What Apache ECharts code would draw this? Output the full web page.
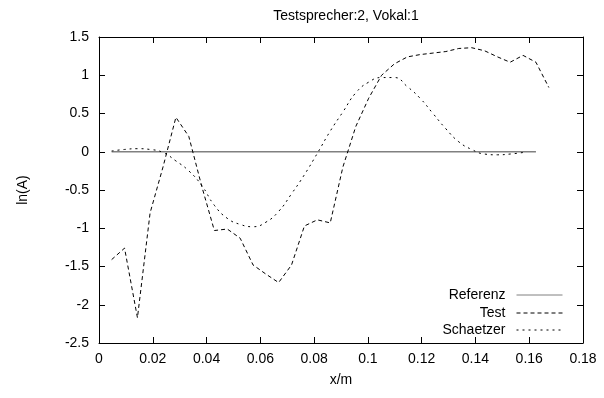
<!DOCTYPE html>
<html>
<head>
<meta charset="utf-8">
<script src="https://cdn.jsdelivr.net/npm/echarts@6/dist/echarts.min.js"></script>
<style>
  html, body { margin: 0; padding: 0; background: #fff; }
  #chart { width: 604px; height: 398px; }
</style>
</head>
<body>
<div id="chart"></div>
<script>
// x-Werte (m)
var xs = [0.0047, 0.0095, 0.0143, 0.0190, 0.0238, 0.0286, 0.0334, 0.0382, 0.0429, 0.0477,
          0.0525, 0.0573, 0.0621, 0.0668, 0.0716, 0.0764, 0.0812, 0.0860, 0.0907, 0.0955,
          0.1003, 0.1051, 0.1099, 0.1147, 0.1194, 0.1242, 0.1290, 0.1338, 0.1386, 0.1434,
          0.1482, 0.1529, 0.1577, 0.1625, 0.1673];

var referenz = [0, 0, 0, 0, 0, 0, 0, 0, 0, 0, 0, 0, 0, 0, 0, 0, 0, 0, 0, 0,
                0, 0, 0, 0, 0, 0, 0, 0, 0, 0, 0, 0, 0, 0];

var test = [-1.41, -1.26, -2.17, -0.80, -0.20, 0.45, 0.20, -0.45, -1.03, -1.01,
            -1.13, -1.48, -1.60, -1.71, -1.48, -0.97, -0.89, -0.93, -0.20, 0.33,
            0.70, 1.00, 1.15, 1.24, 1.27, 1.29, 1.31, 1.35, 1.36, 1.32,
            1.24, 1.17, 1.26, 1.17, 0.84];

var schaetzer = [0.01, 0.03, 0.04, 0.03, -0.01, -0.12, -0.25, -0.44, -0.70, -0.87,
                 -0.95, -0.98, -0.92, -0.78, -0.55, -0.30, -0.02, 0.27, 0.52, 0.77,
                 0.91, 0.97, 0.97, 0.85, 0.70, 0.50, 0.30, 0.13, 0.03, -0.03,
                 -0.04, -0.03, -0.01];

function pairs(ys){
  var out = [];
  for (var i = 0; i < ys.length; i++) out.push([xs[i], ys[i]]);
  return out;
}

var font = 'Liberation Sans, Arial, sans-serif';

// je Eintrag eine eigene Legende, damit die Linienmuster rechtsbuendig stehen
function legendItem(name, top){
  return {
    data: [name],
    orient: 'vertical',
    right: 41,
    top: top,
    align: 'right',
    itemWidth: 46,
    itemHeight: 10,
    itemGap: 0,
    padding: 0,
    itemStyle: { opacity: 0 },
    lineStyle: { width: 1 },
    textStyle: { fontFamily: font, fontSize: 14, color: '#000', padding: [0, 6, 0, 0] }
  };
}

function Chart_1(){
  var myChart = echarts.init(document.getElementById('chart'));
  var axisLine = { onZero: false, show: true, lineStyle: { color: '#000', width: 1 } };
  var axisTick = { show: true, inside: true, length: 6, lineStyle: { color: '#000' } };
  var option = {
    animation: false,
    backgroundColor: '#fff',
    title: {
      text: 'Testsprecher:2, Vokal:1',
      left: 341,
      textAlign: 'center',
      top: 4,
      textStyle: { fontFamily: font, fontSize: 14, fontWeight: 'normal', color: '#000' }
    },
    legend: [
      legendItem('Referenz', 288),
      legendItem('Test', 306),
      legendItem('Schaetzer', 323)
    ],
    grid: { left: 99, right: 21, top: 37, bottom: 55 },
    xAxis: [
      {
        type: 'value', min: 0, max: 0.18, interval: 0.02,
        name: 'x/m', nameLocation: 'middle', nameGap: 30,
        nameTextStyle: { fontFamily: font, fontSize: 14, color: '#000' },
        axisLine: axisLine, axisTick: axisTick,
        axisLabel: { fontFamily: font, fontSize: 14, color: '#000', margin: 9,
          formatter: function(v){ return String(+v.toFixed(2)); } },
        splitLine: { show: false }
      },
      {
        type: 'value', position: 'top', min: 0, max: 0.18, interval: 0.02,
        axisLine: axisLine, axisTick: axisTick,
        axisLabel: { show: false },
        splitLine: { show: false }
      }
    ],
    yAxis: [
      {
        type: 'value', min: -2.5, max: 1.5, interval: 0.5,
        name: 'ln(A)', nameLocation: 'middle', nameGap: 69, nameRotate: 90,
        nameTextStyle: { fontFamily: font, fontSize: 14, color: '#000' },
        axisLine: axisLine, axisTick: axisTick,
        axisLabel: { fontFamily: font, fontSize: 14, color: '#000', margin: 10 },
        splitLine: { show: false }
      },
      {
        type: 'value', position: 'right', min: -2.5, max: 1.5, interval: 0.5,
        axisLine: axisLine, axisTick: axisTick,
        axisLabel: { show: false },
        splitLine: { show: false }
      }
    ],
    series: [
      {
        name: 'Referenz', type: 'line', data: pairs(referenz),
        symbol: 'none', color: '#808080',
        lineStyle: { color: '#808080', width: 1.5, type: 'solid' }
      },
      {
        name: 'Test', type: 'line', data: pairs(test),
        symbol: 'none', color: '#000',
        lineStyle: { color: '#000', width: 1, type: [4, 3] }
      },
      {
        name: 'Schaetzer', type: 'line', data: pairs(schaetzer),
        symbol: 'none', color: '#000', smooth: true,
        lineStyle: { color: '#000', width: 1, type: [2, 4] }
      }
    ]
  };
  myChart.setOption(option);
}

Chart_1();
</script>
</body>
</html>
